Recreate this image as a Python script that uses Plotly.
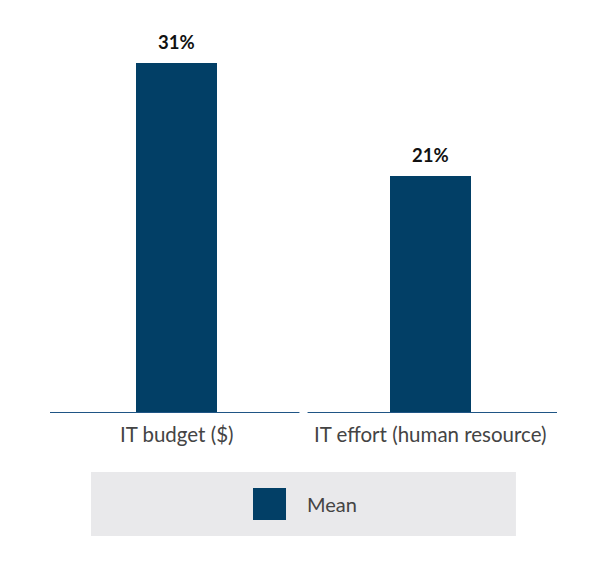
import plotly.graph_objects as go

categories = ["IT budget ($)", "IT effort (human resource)"]
mean_values = [31, 21]
value_labels = ["31%", "21%"]
series_name = "Mean"

BAR_COLOR = "#023f66"
LINE_COLOR = "#1f5585"
FONT = "Lato, 'Open Sans', sans-serif"

x_pos = list(range(len(categories)))

fig = go.Figure()
fig.add_trace(go.Bar(
    x=x_pos, y=mean_values, width=0.32,
    marker=dict(color=BAR_COLOR, line=dict(width=0)),
    name=series_name, showlegend=False, hoverinfo="skip",
))

# value labels
for xi, v, lab in zip(x_pos, mean_values, value_labels):
    fig.add_annotation(x=xi, y=v, text=f"<b>{lab}</b>", showarrow=False,
                       yshift=21, font=dict(family=FONT, size=18.5, color="#111111"))

# split baseline per category
gap = 0.016
n = len(categories)
for i in range(n):
    x0 = i - 0.5 + (gap if i > 0 else 0)
    x1 = i + 0.5 - (gap if i < n - 1 else 0)
    fig.add_shape(type="line", xref="x", yref="y", x0=x0, x1=x1, y0=0, y1=0,
                  line=dict(color=LINE_COLOR, width=2))

# custom legend box
fig.add_shape(type="rect", xref="paper", yref="paper", x0=0.0809, x1=0.919,
              y0=-0.313, y1=-0.1501, fillcolor="#e9e9eb", line=dict(width=0), layer="below")
fig.add_shape(type="rect", xref="paper", yref="paper", x0=0.4004, x1=0.4655,
              y0=-0.2723, y1=-0.1908, fillcolor=BAR_COLOR, line=dict(width=0))
fig.add_annotation(xref="paper", yref="paper", x=0.503, y=-0.2316, text=series_name,
                   showarrow=False, xanchor="left", yanchor="middle",
                   font=dict(family=FONT, size=20, color="#444444"))

fig.update_layout(
    width=598, height=560,
    margin=dict(l=42, r=49, t=12, b=155),
    paper_bgcolor="white", plot_bgcolor="white",
    font=dict(family=FONT),
    showlegend=False,
    bargap=0,
    xaxis=dict(
        tickmode="array", tickvals=x_pos, ticktext=categories,
        range=[-0.5, n - 0.5], showgrid=False, zeroline=False, showline=False,
        ticks="outside", ticklen=3, tickcolor="rgba(0,0,0,0)",
        tickfont=dict(family=FONT, size=20.5, color="#444444"), fixedrange=True,
    ),
    yaxis=dict(range=[0, 393 / (350 / 31)], visible=False, fixedrange=True),
)

fig.write_html("out.html")
